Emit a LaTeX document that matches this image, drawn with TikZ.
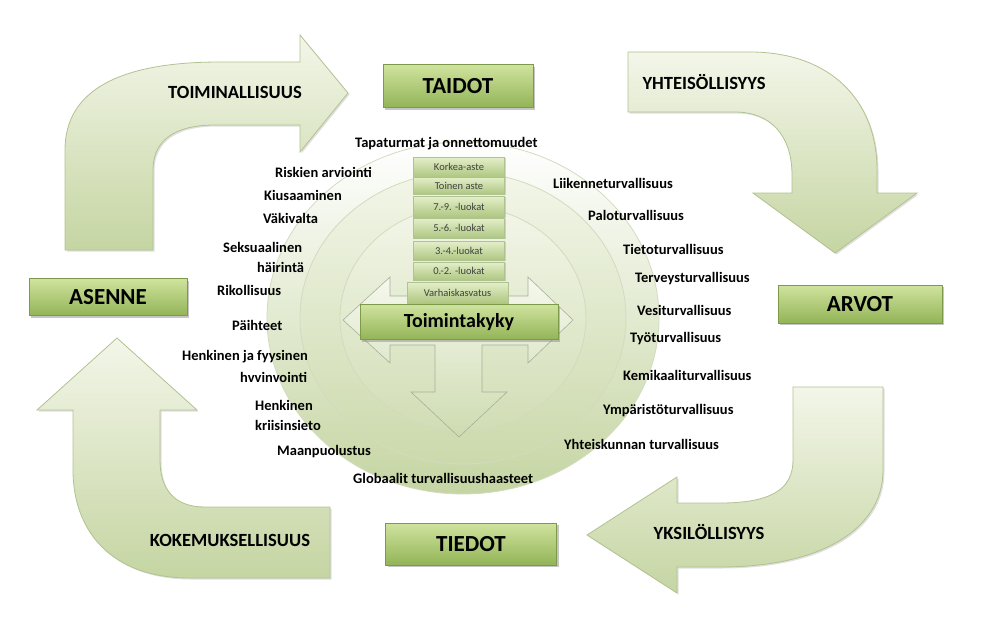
\documentclass[tikz,border=0pt]{standalone}
\usepackage{fontspec}
\setmainfont{Carlito}
\usetikzlibrary{shadows}
\definecolor{paleleaf}{HTML}{F3F6E9}
\definecolor{leaf}{HTML}{C5D5A2}
\definecolor{leafline}{HTML}{B2C291}
\definecolor{boxtop}{HTML}{CFE39E}
\definecolor{boxbot}{HTML}{93B457}
\definecolor{boxline}{HTML}{7C9A4A}
\definecolor{ringline}{HTML}{D2DBC0}
\definecolor{stagetext}{HTML}{404040}
\tikzset{
  bigarrow/.style={top color=paleleaf, bottom color=leaf, draw=leafline, line width=0.8pt,
    drop shadow={shadow xshift=1.5pt, shadow yshift=-1.5pt, opacity=0.25}},
  crossarrow/.style={top color=paleleaf!80!white, bottom color=leaf!85!white, draw=ringline!80!black, line width=0.6pt},
  ring/.style={draw=ringline, line width=0.8pt},
  levelbox/.style={rectangle, draw=boxline, top color=boxtop, bottom color=boxbot,
    font=\bfseries\fontsize{23}{26}\selectfont, inner sep=0pt,
    drop shadow={shadow xshift=2pt, shadow yshift=-2pt, opacity=0.45}},
  stagebox/.style={rectangle, draw=boxline!60, top color=boxtop!55!white, bottom color=boxbot!75!white,
    font=\fontsize{10.5}{12}\selectfont, text=stagetext, inner sep=0pt, minimum width=91pt,
    drop shadow={shadow xshift=1pt, shadow yshift=-1pt, opacity=0.3}},
  topic/.style={font=\bfseries\fontsize{14.5}{16}\selectfont, inner sep=0pt, anchor=west},
  flowtext/.style={font=\bfseries\fontsize{18.6}{21}\selectfont, inner sep=0pt}
}
\begin{document}
\begin{tikzpicture}[x=1pt, y=-1pt]
    \useasboundingbox (0,0) rectangle (995,634);
    % Rings
    \path[ring, top color=white, bottom color=leaf] (463,318) ellipse [x radius=196, y radius=176];
    \path[ring, top color=paleleaf, bottom color=leaf!90!white] (463,318) ellipse [x radius=163, y radius=146];
    \path[ring, top color=paleleaf, bottom color=leaf!80!white] (463,318) ellipse [x radius=123, y radius=112];
    % Turning arrows
    \path[bigarrow] (65,250) -- (65,150) .. controls (65,90) and (120,62) .. (220,62) -- (300,62) -- (300,35)
        -- (348,93) -- (300,152) -- (300,125) -- (215,125) .. controls (175,125) and (153,140) .. (153,170) -- (153,250) -- cycle;
    \path[bigarrow] (628,52) -- (750,52) .. controls (830,52) and (877,100) .. (877,170) -- (877,193) -- (917,193)
        -- (835,253) -- (753,193) -- (792,193) -- (792,175) .. controls (792,135) and (770,112) .. (735,112) -- (628,112) -- cycle;
    \path[bigarrow] (793,387) -- (883,387) -- (883,470) .. controls (883,530) and (820,567) .. (720,567) -- (677,567) -- (677,593)
        -- (587,535) -- (677,477) -- (677,503) -- (720,503) .. controls (770,503) and (793,490) .. (793,460) -- cycle;
    \path[bigarrow] (330,578) -- (190,578) .. controls (110,578) and (73,530) .. (73,470) -- (73,410) -- (37,410)
        -- (117,338) -- (197,410) -- (160,410) -- (160,460) .. controls (160,490) and (175,507) .. (205,507) -- (330,507) -- cycle;
    \node[flowtext] (toim) at (235,92) {TOIMINALLISUUS};
    \node[flowtext] (yhte) at (704,82) {YHTEISÖLLISYYS};
    \node[flowtext] (yksi) at (709,532) {YKSILÖLLISYYS};
    \node[flowtext] (koke) at (230,540) {KOKEMUKSELLISUUS};
    % Centre arrow
    \path[crossarrow] (343,320) -- (390,277) -- (390,296) -- (528,296) -- (528,277) -- (573,320) -- (528,363) -- (528,345)
        -- (482,345) -- (482,392) -- (507,392) -- (459,437) -- (411,392) -- (435,392) -- (435,345) -- (390,345) -- (390,363) -- cycle;
    % Stages
    \foreach \nm/\yy/\hh/\txt in {korkea/167/20/Korkea-aste, toinen/185.5/17/Toinen aste, lk79/206.5/21/7.-9. -luokat,
        lk56/228/20/5.-6. -luokat, lk34/250.5/19/3.-4.-luokat, lk02/271/18/0.-2. -luokat} {
        \node[stagebox, minimum height=\hh pt] (\nm) at (459,\yy) {\txt};
    }
    \node[stagebox, minimum width=101pt, minimum height=21pt] (varh) at (457.5,292.5) {Varhaiskasvatus};
    \node[levelbox, minimum width=198pt, minimum height=35pt, font=\bfseries\fontsize{20}{22}\selectfont] (kyky) at (459,322) {Toimintakyky};
    % Corners
    \node[levelbox, minimum width=150pt, minimum height=43pt] (taidot) at (458,86) {TAIDOT};
    \node[levelbox, minimum width=164pt, minimum height=38pt] (arvot) at (860,304) {ARVOT};
    \node[levelbox, minimum width=171pt, minimum height=42pt] (tiedot) at (471,544) {TIEDOT};
    \node[levelbox, minimum width=158pt, minimum height=37pt] (asenne) at (108,297) {ASENNE};
    % Topics
    \foreach \nm/\xx/\yy/\txt in {tapa/355/144/Tapaturmat ja onnettomuudet, risk/275/172/Riskien arviointi,
        kius/264/195/Kiusaaminen, vaki/263/218/Väkivalta, seks/223/247/Seksuaalinen, hair/257/267/häirintä,
        riko/217/290/Rikollisuus, paih/232/325/Päihteet, henk/182/357/Henkinen ja fyysinen, hyvi/240/377/hvvinvointi,
        kris/255/405/Henkinen, kriz/255/425/kriisinsieto, maan/277/452/Maanpuolustus, glob/353/478/Globaalit turvallisuushaasteet,
        liik/553/183/Liikenneturvallisuus, palo/588/215/Paloturvallisuus, tiet/623/249/Tietoturvallisuus,
        terv/635/279/Terveysturvallisuus, vesi/637/310/Vesiturvallisuus, tyot/630/339/Työturvallisuus,
        kemi/623/375/Kemikaaliturvallisuus, ympa/603/411/Ympäristöturvallisuus, yhte/564/444/Yhteiskunnan turvallisuus} {
        \node[topic] (\nm) at (\xx,\yy) {\txt};
    }
\end{tikzpicture}
\end{document}
